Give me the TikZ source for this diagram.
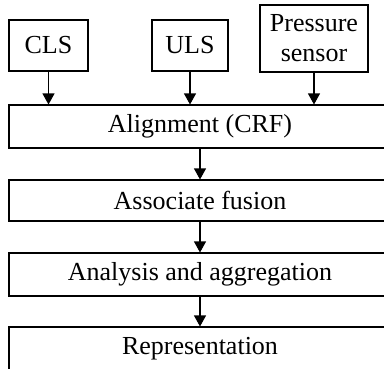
\documentclass[tikz,border=0pt]{standalone}
\usepackage{fontspec}
\setmainfont{Liberation Serif}
\usetikzlibrary{arrows.meta}
\begin{document}
\begin{tikzpicture}[x=1pt,y=-1pt,
  box/.style={draw, line width=1.1pt, inner sep=0pt, align=center,
    font=\fontsize{26}{30}\selectfont},
  arr/.style={draw, line width=1.1pt, -{Triangle[width=12pt,length=11pt]}}]
\useasboundingbox (0,0) rectangle (384,368);
\clip (0,0) rectangle (384,368);
\node[box, minimum width=79pt, minimum height=51pt] (cls) at (48.5,45.5) {CLS};
\node[box, minimum width=76pt, minimum height=51pt] (uls) at (190,45.5) {ULS};
\node[box, minimum width=108pt, minimum height=67pt] (pres) at (314,38.5) {Pressure\\sensor};
\node[box, minimum width=382pt, minimum height=43pt] (align) at (200,126.5) {Alignment (CRF)};
\node[box, minimum width=382pt, minimum height=41pt] (assoc) at (200,200.5) {Associate fusion};
\node[box, minimum width=382pt, minimum height=43pt] (anal) at (200,274.5) {Analysis and aggregation};
\node[box, minimum width=382pt, minimum height=43pt] (repr) at (200,348.5) {Representation};
\draw[arr] (cls.south) -- (cls.south |- align.north);
\draw[arr] (uls.south) -- (uls.south |- align.north);
\draw[arr] (pres.south) -- (pres.south |- align.north);
\draw[arr] (align.south) -- (assoc.north);
\draw[arr] (assoc.south) -- (anal.north);
\draw[arr] (anal.south) -- (repr.north);
\end{tikzpicture}
\end{document}
